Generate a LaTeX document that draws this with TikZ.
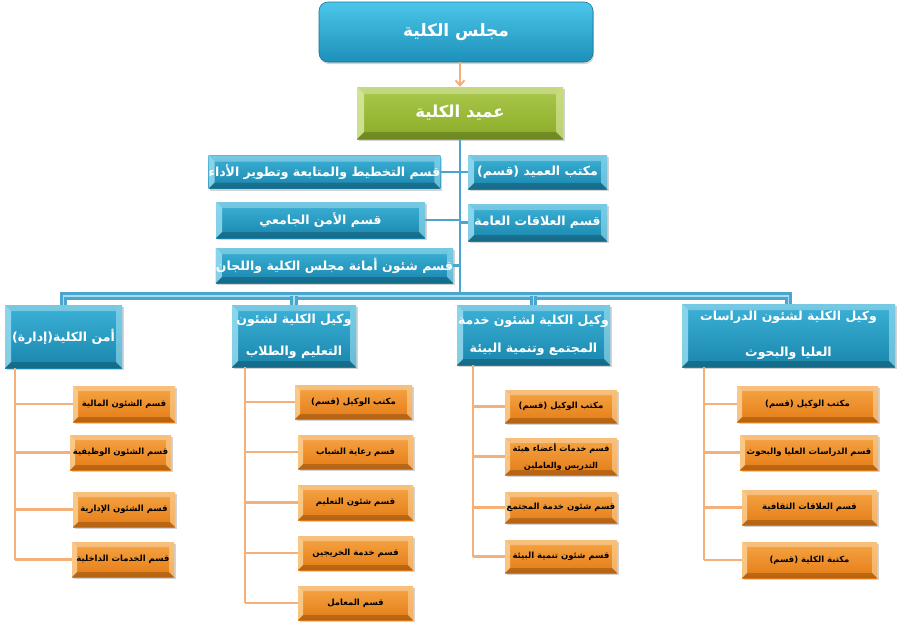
\documentclass[tikz,border=0pt]{standalone}
\usepackage{fontspec}
\usetikzlibrary{shadows,arrows.meta}
\TeXXeTstate=1
\newfontfamily\arabicfont[Script=Arabic]{DejaVu Sans}
\newcommand{\AR}[1]{{\arabicfont\bfseries\beginR #1\endR}}
\definecolor{cyanL}{HTML}{4CC6EA}
\definecolor{cyanD}{HTML}{1C90B9}
\definecolor{blueL}{HTML}{3CB2D8}
\definecolor{blueD}{HTML}{1A86AC}
\definecolor{blueS}{HTML}{9EE0F2}
\definecolor{greenL}{HTML}{ABC94C}
\definecolor{greenD}{HTML}{8AAB28}
\definecolor{greenS}{HTML}{DDEBA4}
\definecolor{orangeL}{HTML}{F6A545}
\definecolor{orangeD}{HTML}{E47C16}
\definecolor{orangeS}{HTML}{FCD49A}
\definecolor{lineO}{HTML}{F5B07A}
\definecolor{lineB}{HTML}{4AA6CF}
\definecolor{lineBL}{HTML}{A8DFF0}
\newcommand{\bevstrips}[2]{%
 \path (path picture bounding box.north west) coordinate (bNW)
       (path picture bounding box.north east) coordinate (bNE)
       (path picture bounding box.south west) coordinate (bSW)
       (path picture bounding box.south east) coordinate (bSE);
 \fill[#1,opacity=.8] (bNW) -- (bSW) -- ([shift={(#2,#2)}]bSW) -- ([shift={(#2,-#2)}]bNW) -- cycle;
 \fill[#1,opacity=.6] (bNE) -- (bSE) -- ([shift={(-#2,#2)}]bSE) -- ([shift={(-#2,-#2)}]bNE) -- cycle;
 \fill[white,opacity=.3] (bNW) -- (bNE) -- ([shift={(-#2,-#2)}]bNE) -- ([shift={(#2,-#2)}]bNW) -- cycle;
 \fill[black,opacity=.2] (bSW) -- (bSE) -- ([shift={(-#2,#2)}]bSE) -- ([shift={(#2,#2)}]bSW) -- cycle;
}
\tikzset{
 sz/.style 2 args={minimum width=#1pt, minimum height=#2pt},
 topbox/.style={rounded corners=9pt, top color=cyanL, bottom color=cyanD, text=white,
   draw=cyanD!80!black, line width=0.6pt,
   inner sep=0pt, drop shadow={shadow xshift=1pt, shadow yshift=-2pt, opacity=.35},
   font=\fontsize{17}{20}\selectfont},
 deanbox/.style={top color=greenL, bottom color=greenD, text=white, inner sep=0pt,
   path picture={\bevstrips{greenS}{7pt}},
   drop shadow={shadow xshift=1.5pt, shadow yshift=-2pt, opacity=.35},
   font=\fontsize{16.5}{19}\selectfont},
 bluebox/.style={top color=blueL, bottom color=blueD, text=white, inner sep=0pt,
   path picture={\bevstrips{blueS}{6pt}},
   drop shadow={shadow xshift=1.5pt, shadow yshift=-2pt, opacity=.35},
   font=\fontsize{12.5}{15}\selectfont, align=center},
 lvbox/.style={bluebox, font=\fontsize{12.5}{30}\selectfont},
 orbox/.style={top color=orangeL, bottom color=orangeD, text=black, inner sep=0pt,
   path picture={\bevstrips{orangeS}{5pt}},
   drop shadow={shadow xshift=1.5pt, shadow yshift=-2pt, opacity=.35},
   font=\fontsize{8.5}{12}\selectfont, align=center},
 bline/.style={draw=lineB, line width=2.2pt},
 busline/.style={draw=lineB, line width=3pt, double=lineBL, double distance=1.2pt},
 oline/.style={draw=lineO, line width=2.4pt},
 oarrow/.style={draw=lineO, line width=2pt, -{Straight Barb[length=5pt,width=9pt]}}
}
\begin{document}
\begin{tikzpicture}[x=1pt,y=-1pt]
\useasboundingbox (0,0) rectangle (920,629);
% top levels
\node[topbox, sz={274}{60}] (council) at (456,32) {\AR{مجلس الكلية}};
\node[deanbox, sz={206}{52}] (dean) at (460,113) {\AR{عميد الكلية}};
\draw[oarrow] (council.south -| dean.north) -- (dean.north);
% side boxes
\node[bluebox, sz={223}{33}] (plan) at (324.5,172) {\AR{قسم التخطيط والمتابعة وتطوير الأداء}};
\node[bluebox, sz={209}{36}] (secu) at (320.5,220) {\AR{قسم الأمن الجامعي}};
\node[bluebox, sz={237}{35}] (secr) at (334.5,265.5) {\AR{قسم شئون أمانة مجلس الكلية واللجان}};
\node[bluebox, sz={139}{34}] (office) at (537.5,172) {\AR{مكتب العميد (قسم)}};
\node[bluebox, sz={139}{37}] (pr) at (537.5,222.5) {\AR{قسم العلاقات العامة}};
% level 2
\node[lvbox, sz={117}{63}] (L1) at (63.5,336.5) {\AR{أمن الكلية(إدارة)}};
\node[lvbox, sz={124}{62}, font=\fontsize{12.5}{32}\selectfont] (L2) at (294,336) {\AR{وكيل الكلية لشئون}\\\AR{التعليم والطلاب}};
\node[lvbox, sz={153}{60}, font=\fontsize{12.5}{28}\selectfont] (L3) at (533.5,335) {\AR{وكيل الكلية لشئون خدمة}\\\AR{المجتمع وتنمية البيئة}};
\node[lvbox, sz={213}{63}, font=\fontsize{12.5}{36}\selectfont] (L4) at (788.5,335.5) {\AR{وكيل الكلية لشئون الدراسات}\\\AR{العليا والبحوث}};
% connectors top
\coordinate (busy) at (462,296);
\draw[bline] (dean.south) -- (dean.south |- busy);
\draw[bline] (plan.east) -- (plan.east -| dean.south);
\draw[bline] (secu.east) -- (secu.east -| dean.south);
\draw[bline] (secr.east) -- (secr.east -| dean.south);
\draw[bline] (office.west) -- (office.west -| dean.south);
\draw[bline] (pr.west) -- (pr.west -| dean.south);
\draw[busline] (L1.north) -- (L1.north |- busy) -- (L4.north |- busy) -- (L4.north);
\draw[busline] (L2.north) -- (L2.north |- busy);
\draw[busline] (L3.north) -- (L3.north |- busy);
% column 1
\node[orbox, sz={102}{36}] (o11) at (124,404) {\AR{قسم الشئون المالية}};
\node[orbox, sz={101}{35}] (o12) at (120.5,452.5) {\AR{قسم الشئون الوظيفية}};
\node[orbox, sz={102}{35}] (o13) at (124,509.5) {\AR{قسم الشئون الإدارية}};
\node[orbox, sz={102}{35}] (o14) at (123,559.5) {\AR{قسم الخدمات الداخلية}};
% column 2
\node[orbox, sz={117}{34}] (o21) at (353.5,402) {\AR{مكتب الوكيل (قسم)}};
\node[orbox, sz={115}{34}] (o22) at (355.5,452) {\AR{قسم رعاية الشباب}};
\node[orbox, sz={115}{35}] (o23) at (355.5,502.5) {\AR{قسم شئون التعليم}};
\node[orbox, sz={115}{34}] (o24) at (355.5,553) {\AR{قسم خدمة الخريجين}};
\node[orbox, sz={115}{34}] (o25) at (355.5,603) {\AR{قسم المعامل}};
% column 3
\node[orbox, sz={112}{33}] (o31) at (561,406.5) {\AR{مكتب الوكيل (قسم)}};
\node[orbox, sz={112}{37}, font=\fontsize{8.2}{17}\selectfont] (o32) at (561,456.5) {\AR{قسم خدمات أعضاء هيئة}\\\AR{التدريس والعاملين}};
\node[orbox, sz={112}{31}] (o33) at (561,507.5) {\AR{قسم شئون خدمة المجتمع}};
\node[orbox, sz={112}{33}] (o34) at (561,556.5) {\AR{قسم شئون تنمية البيئة}};
% column 4
\node[orbox, sz={141}{36}] (o41) at (807.5,404) {\AR{مكتب الوكيل (قسم)}};
\node[orbox, sz={138}{35}] (o42) at (809,452.5) {\AR{قسم الدراسات العليا والبحوث}};
\node[orbox, sz={135}{35}] (o43) at (809.5,507.5) {\AR{قسم العلاقات الثقافية}};
\node[orbox, sz={135}{36}] (o44) at (809.5,560) {\AR{مكتبة الكلية (قسم)}};
% spines
\coordinate (s1) at ([xshift=10pt]L1.south west);
\coordinate (s2) at ([xshift=13pt]L2.south west);
\coordinate (s3) at ([xshift=16pt]L3.south west);
\coordinate (s4) at ([xshift=22pt]L4.south west);
\draw[oline] (s1) -- (s1 |- o14.west);
\foreach \b in {o11,o12,o13,o14} \draw[oline] (s1 |- \b.west) -- (\b.west);
\draw[oline] (s2) -- (s2 |- o25.west);
\foreach \b in {o21,o22,o23,o24,o25} \draw[oline] (s2 |- \b.west) -- (\b.west);
\draw[oline] (s3) -- (s3 |- o34.west);
\foreach \b in {o31,o32,o33,o34} \draw[oline] (s3 |- \b.west) -- (\b.west);
\draw[oline] (s4) -- (s4 |- o44.west);
\foreach \b in {o41,o42,o43,o44} \draw[oline] (s4 |- \b.west) -- (\b.west);
\end{tikzpicture}
\end{document}
